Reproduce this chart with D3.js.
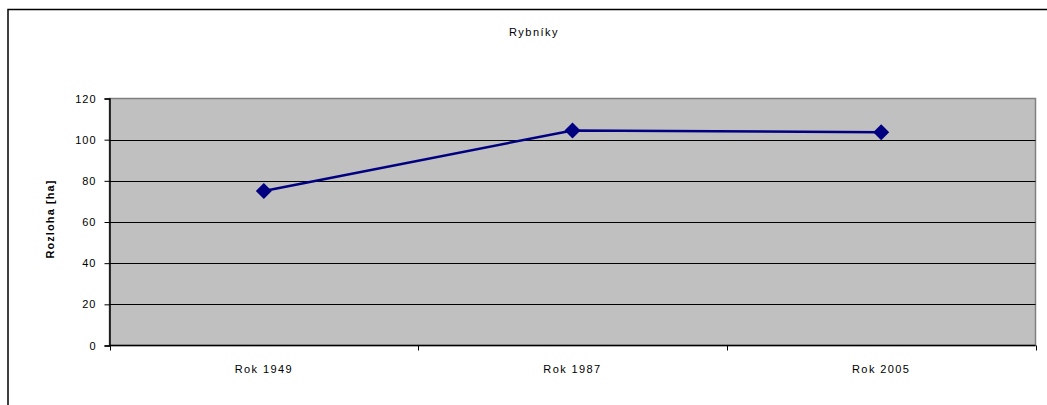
<!DOCTYPE html>
<html>
<head>
<meta charset="utf-8">
<script src="https://cdn.jsdelivr.net/npm/d3@7"></script>
<style>
  body { margin: 0; background: #fff; }
  text { font-family: "Liberation Sans", Arial, sans-serif; fill: #000; }
</style>
</head>
<body>
<div id="chart"></div>
<script>
const categories = ["Rok 1949", "Rok 1987", "Rok 2005"];
const values = [75.1, 104.5, 103.6];
const yTicks = [0, 20, 40, 60, 80, 100, 120];

const width = 1047;
const height = 405;
const plot = { left: 109.5, top: 98.5, right: 1035.5, bottom: 345.5 };

const svg = d3.select("#chart")
  .append("svg")
  .attr("width", width)
  .attr("height", height);

// outer chart frame (right and bottom edges fall outside the picture)
svg.append("rect")
  .attr("x", 8).attr("y", 9.5)
  .attr("width", 1060).attr("height", 420)
  .attr("fill", "#fff")
  .attr("stroke", "#000")
  .attr("stroke-width", 1.5);

const x = d3.scaleBand()
  .domain(categories)
  .range([plot.left, plot.right]);

const y = d3.scaleLinear()
  .domain([0, 120])
  .range([plot.bottom, plot.top]);

// plot area
svg.append("rect")
  .attr("x", plot.left).attr("y", plot.top)
  .attr("width", plot.right - plot.left)
  .attr("height", plot.bottom - plot.top)
  .attr("fill", "#c0c0c0")
  .attr("stroke", "#808080")
  .attr("stroke-width", 1.5);

// gridlines
svg.append("g")
  .selectAll("line")
  .data(yTicks.filter(d => d > 0 && d < 120))
  .enter().append("line")
  .attr("x1", plot.left).attr("x2", plot.right)
  .attr("y1", d => Math.round(y(d)) + 0.5)
  .attr("y2", d => Math.round(y(d)) + 0.5)
  .attr("stroke", "#000")
  .attr("stroke-width", 1);

// y axis
const yAxis = svg.append("g")
  .attr("transform", "translate(" + plot.left + ",0)")
  .call(d3.axisLeft(y).tickValues(yTicks).tickSize(5).tickPadding(8));
yAxis.select(".domain").attr("stroke", "#000").attr("stroke-width", 1.5);
yAxis.selectAll("line").attr("stroke", "#000");
yAxis.selectAll("text")
  .style("font-size", "11px")
  .style("letter-spacing", "1px")
  .attr("fill", "#000");

// x axis with ticks at category boundaries
svg.append("line")
  .attr("x1", plot.left).attr("x2", plot.right)
  .attr("y1", plot.bottom).attr("y2", plot.bottom)
  .attr("stroke", "#000").attr("stroke-width", 1.5);

const bounds = categories.map(c => x(c)).concat([x.range()[1]]);
svg.append("g")
  .selectAll("line")
  .data(bounds)
  .enter().append("line")
  .attr("x1", d => Math.round(d) + 0.5).attr("x2", d => Math.round(d) + 0.5)
  .attr("y1", plot.bottom).attr("y2", plot.bottom + 5)
  .attr("stroke", "#000");

svg.append("g")
  .selectAll("text")
  .data(categories)
  .enter().append("text")
  .attr("x", d => x(d) + x.bandwidth() / 2)
  .attr("y", 373)
  .attr("text-anchor", "middle")
  .style("font-size", "11px")
  .style("letter-spacing", "1.4px")
  .text(d => d);

// title
svg.append("text")
  .attr("x", 534).attr("y", 36)
  .attr("text-anchor", "middle")
  .style("font-size", "11px")
  .style("letter-spacing", "1.5px")
  .text("Rybníky");

// y axis title
svg.append("text")
  .attr("transform", "translate(54," + 219 + ") rotate(-90)")
  .attr("text-anchor", "middle")
  .style("font-size", "11px")
  .style("font-weight", "bold")
  .style("letter-spacing", "1.1px")
  .text("Rozloha [ha]");

// series line
const line = d3.line()
  .x((d, i) => x(categories[i]) + x.bandwidth() / 2)
  .y(d => y(d));

svg.append("path")
  .datum(values)
  .attr("d", line)
  .attr("fill", "none")
  .attr("stroke", "#000080")
  .attr("stroke-width", 2.5);

// diamond markers
const diamond = d3.symbol().type(d3.symbolSquare).size(128);
svg.append("g")
  .selectAll("path")
  .data(values)
  .enter().append("path")
  .attr("d", diamond)
  .attr("transform", (d, i) =>
    "translate(" + (x(categories[i]) + x.bandwidth() / 2) + "," + y(d) + ") rotate(45)")
  .attr("fill", "#000080");
</script>
</body>
</html>
